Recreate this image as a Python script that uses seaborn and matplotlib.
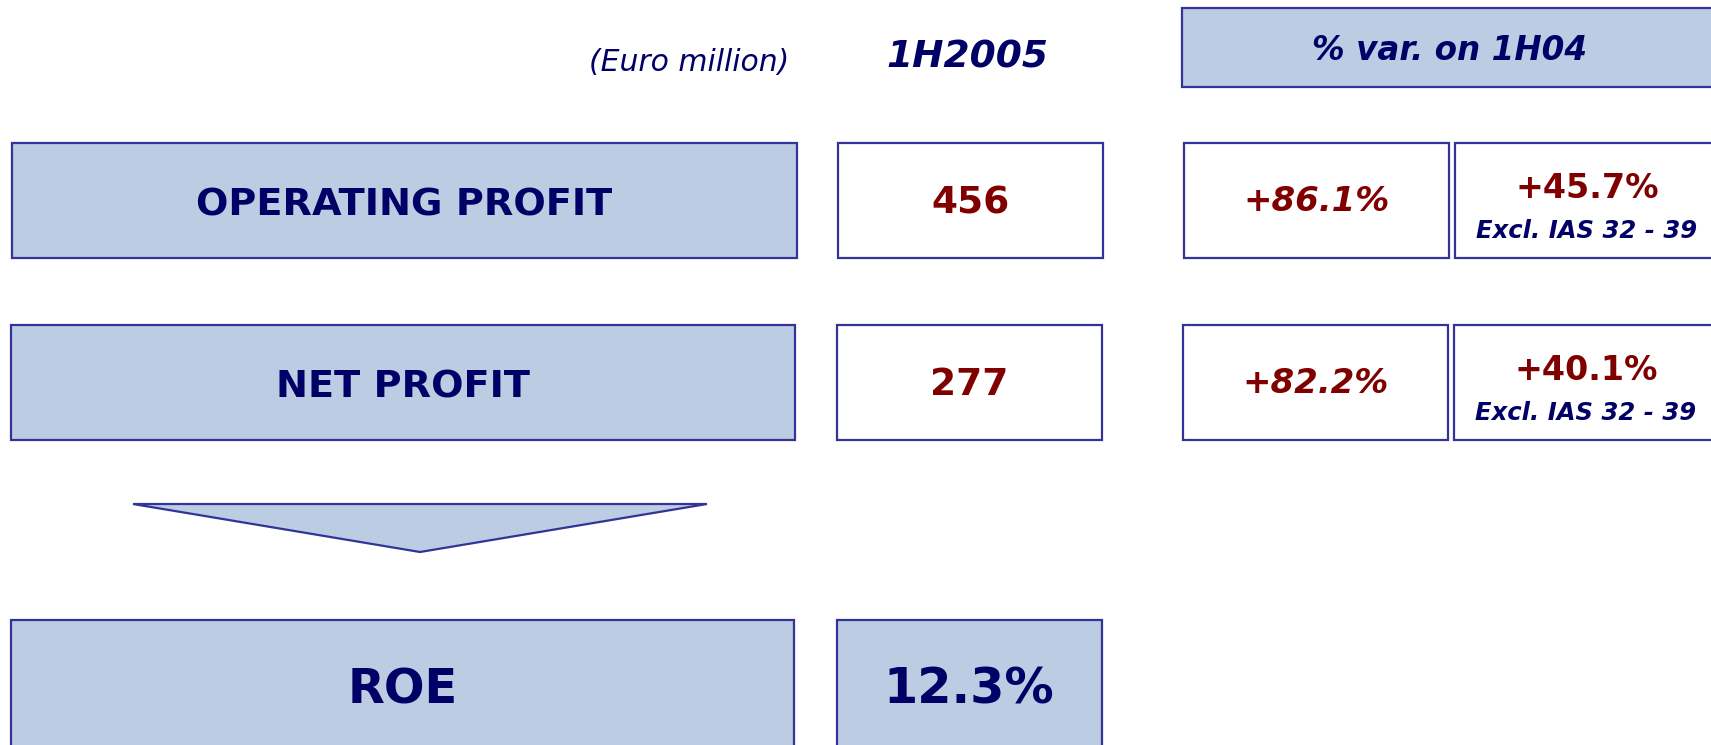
import matplotlib
matplotlib.use("Agg")
import matplotlib.pyplot as plt
from matplotlib.patches import Rectangle, Polygon
import seaborn as sns

# ---- data ----
metrics = ["OPERATING PROFIT", "NET PROFIT"]
values_1h2005 = [456, 277]
var_reported = [86.1, 82.2]
var_excl_ias = [45.7, 40.1]
roe_label = "ROE"
roe_value = 12.3
unit_label = "(Euro million)"
period_label = "1H2005"
var_header = "% var. on 1H04"
excl_note = "Excl. IAS 32 - 39"

# ---- style ----
sns.set_theme(style="white")
plt.rcParams["font.family"] = ["DejaVu Sans"]
FILL = "#bccce3"
EDGE = "#333399"
NAVY = "#000066"
RED = "#800000"
LW = 1.6

W, H = 1711, 745
fig = plt.figure(figsize=(W / 100, H / 100), dpi=100)
ax = fig.add_axes([0, 0, 1, 1])
ax.set_xlim(0, W)
ax.set_ylim(H, 0)
ax.axis("off")


def box(x0, y0, x1, y1, fill):
    ax.add_patch(Rectangle((x0, y0), x1 - x0, y1 - y0, facecolor=fill,
                           edgecolor=EDGE, linewidth=LW))


# header
ax.text(789, 71, unit_label, ha="right", va="baseline", fontsize=21.5,
        style="italic", color=NAVY)
ax.text(967, 68, period_label, ha="center", va="baseline", fontsize=27,
        style="italic", weight="bold", color=NAVY)
box(1182, 8, 1720, 87, FILL)
ax.text(1450, 60, var_header, ha="center", va="baseline", fontsize=23.5,
        style="italic", weight="bold", color=NAVY)

# metric rows
row_tops = [143, 325]
row_h = 115
for i, (m, v, vr, ve) in enumerate(zip(metrics, values_1h2005, var_reported, var_excl_ias)):
    t = row_tops[i]
    b = t + row_h
    lx0, lx1 = 12 - i, 797 - i * 2
    box(lx0, t, lx1, b, FILL)
    ax.text((lx0 + lx1) / 2, t + 73, m, ha="center", va="baseline",
            fontsize=27.5, weight="bold", color=NAVY)
    vx0, vx1 = 838 - i, 1103 - i
    box(vx0, t, vx1, b, "white")
    ax.text((vx0 + vx1) / 2, t + 70, f"{v}", ha="center", va="baseline",
            fontsize=27, weight="bold", color=RED)
    px0, px1 = 1184 - i, 1449 - i
    box(px0, t, px1, b, "white")
    ax.text((px0 + px1) / 2, t + 68, f"+{vr:.1f}%", ha="center", va="baseline",
            fontsize=24.5, weight="bold", style="italic", color=RED)
    qx0, qx1 = 1455 - i, 1720
    box(qx0, t, qx1, b, "white")
    ax.text(1587 - i, t + 55, f"+{ve:.1f}%", ha="center", va="baseline",
            fontsize=24, weight="bold", color=RED)
    ax.text(1587 - i, t + 95, excl_note, ha="center", va="baseline",
            fontsize=17.5, weight="bold", style="italic", color=NAVY)

# arrow
ax.add_patch(Polygon([(133, 504), (707, 504), (420, 552)], closed=True,
                     facecolor=FILL, edgecolor=EDGE, linewidth=LW))

# ROE row
box(11, 620, 794, 760, FILL)
ax.text(403, 703, roe_label, ha="center", va="baseline", fontsize=34.5,
        weight="bold", color=NAVY)
box(837, 620, 1102, 760, FILL)
ax.text(969, 703, f"{roe_value:.1f}%", ha="center", va="baseline", fontsize=35.5,
        weight="bold", color=NAVY)

fig.savefig("out.png", dpi=100, facecolor="white")
